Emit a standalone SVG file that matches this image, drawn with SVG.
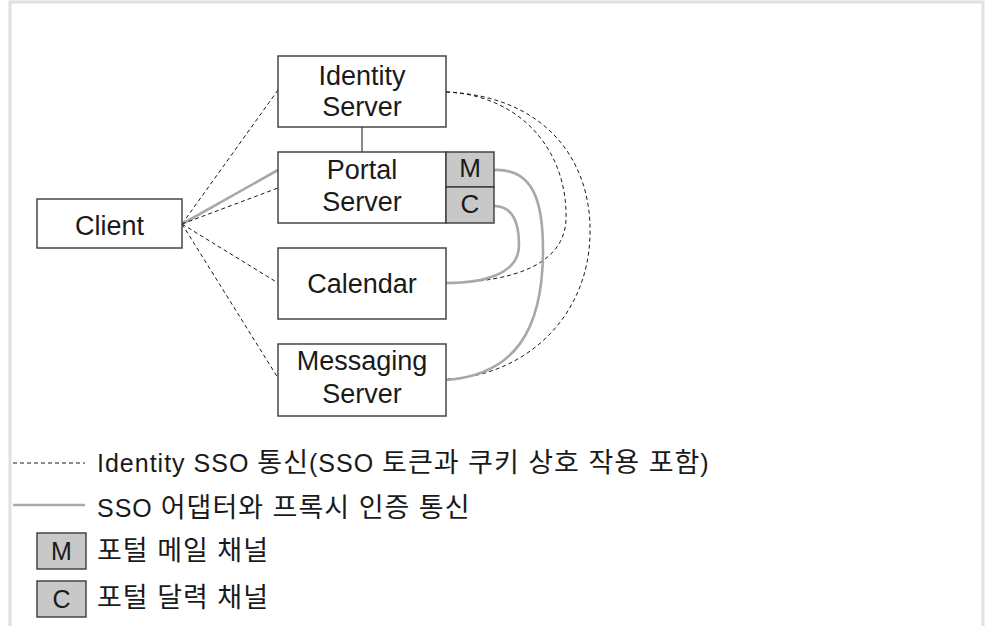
<svg xmlns="http://www.w3.org/2000/svg" width="987" height="626" viewBox="0 0 987 626">
<style>
.box{fill:#fff;stroke:#3a3a3a;stroke-width:1.4}
.ch{fill:#c8c8c8;stroke:#3a3a3a;stroke-width:1.4}
.t{font-family:"Liberation Sans","Noto Sans CJK KR",sans-serif;font-size:27px;fill:#1a1a1a;text-anchor:middle}
.lg{font-family:"Liberation Sans","Noto Sans CJK KR",sans-serif;font-size:25px;fill:#1a1a1a;letter-spacing:1px}
.k{font-size:27px}
.dash{fill:none;stroke:#1a1a1a;stroke-width:1;stroke-dasharray:4 3}
.solid{fill:none;stroke:#a8a8a8;stroke-width:2.6}
</style>
<rect width="987" height="626" fill="#fff"/>
<path d="M10 626 V2 H983 V626" fill="none" stroke="#e0e0e0" stroke-width="3"/>
<g id="connectors">
<line x1="362" y1="127" x2="362" y2="152" stroke="#555" stroke-width="1.4"/>
<line class="dash" x1="182" y1="224" x2="278" y2="90"/>
<line class="solid" x1="182" y1="224" x2="278" y2="170"/>
<line class="dash" x1="182" y1="224" x2="278" y2="188"/>
<line class="dash" x1="182" y1="224" x2="278" y2="283"/>
<line class="dash" x1="182" y1="224" x2="278" y2="378"/>
<path class="dash" d="M446 92 C520 95 568 150 566 220 C564 265 512 282 446 283"/>
<path class="dash" d="M446 92 C545 96 592 160 590 235 C588 320 522 377 446 379"/>
<path class="solid" d="M494 170 C535 168 543 205 543 250 C543 330 515 375 446 380"/>
<path class="solid" d="M494 206 C513 206 519 222 519 245 C519 275 482 283 446 283"/>
</g>
<g id="client">
<rect class="box" x="37" y="199" width="145" height="49"/>
<text class="t" x="109.5" y="235">Client</text>
</g>
<g id="identity-server">
<rect class="box" x="278" y="56" width="168" height="71"/>
<text class="t" x="362" y="85">Identity</text>
<text class="t" x="362" y="116">Server</text>
</g>
<g id="portal-server">
<rect class="box" x="278" y="152" width="168" height="71"/>
<text class="t" x="362" y="179">Portal</text>
<text class="t" x="362" y="211">Server</text>
<rect class="ch" x="446" y="152" width="48" height="35"/>
<text class="t" x="470" y="177" style="font-size:26px">M</text>
<rect class="ch" x="446" y="187" width="48" height="36"/>
<text class="t" x="470" y="213" style="font-size:26px">C</text>
</g>
<g id="calendar">
<rect class="box" x="278" y="248" width="168" height="71"/>
<text class="t" x="362" y="293">Calendar</text>
</g>
<g id="messaging-server">
<rect class="box" x="278" y="344" width="168" height="72"/>
<text class="t" x="362" y="370">Messaging</text>
<text class="t" x="362" y="403">Server</text>
</g>
<g id="legend">
<line class="dash" x1="13" y1="463" x2="85" y2="463"/>
<text class="lg" x="97" y="472">Identity SSO <tspan class="k">통신</tspan>(SSO <tspan class="k">토큰과 쿠키 상호 작용 포함</tspan>)</text>
<line class="solid" x1="13" y1="505" x2="85" y2="505"/>
<text class="lg" x="97" y="517">SSO <tspan class="k">어댑터와 프록시 인증 통신</tspan></text>
<rect class="ch" x="37" y="533" width="49" height="36"/>
<text class="t" x="61.5" y="560" style="font-size:25px">M</text>
<text class="lg" x="97" y="560"><tspan class="k">포털 메일 채널</tspan></text>
<rect class="ch" x="37" y="581" width="49" height="36"/>
<text class="t" x="61.5" y="608" style="font-size:25px">C</text>
<text class="lg" x="97" y="607"><tspan class="k">포털 달력 채널</tspan></text>
</g>
</svg>
